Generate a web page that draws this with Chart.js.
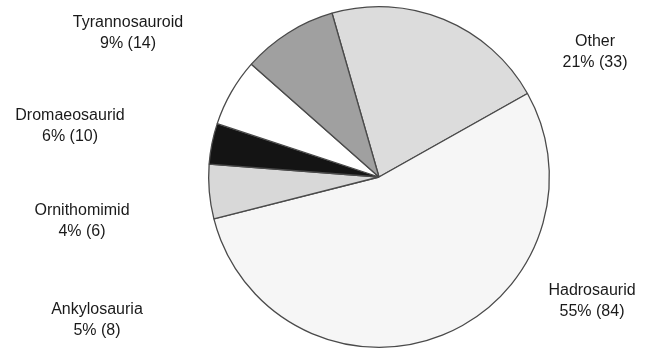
<!DOCTYPE html>
<html>
<head>
<meta charset="utf-8">
<script src="https://cdn.jsdelivr.net/npm/chart.js@4"></script>
<style>
  html, body { margin: 0; padding: 0; background: #fff; }
  #wrap { width: 652px; height: 350px; }
</style>
</head>
<body>
<div id="wrap"><canvas id="pieChart" width="652" height="350"></canvas></div>
<script>
// slices, clockwise starting from "Other"
const groups = ['Other', 'Hadrosaurid', 'Ankylosauria', 'Ornithomimid', 'Dromaeosaurid', 'Tyrannosauroid']
const counts = [33, 84, 8, 6, 10, 14]
const percents = [21, 55, 5, 4, 6, 9]
const sliceColors = ['#dcdcdc', '#f6f6f6', '#d8d8d8', '#141414', '#ffffff', '#a0a0a0']

// where each label sits (px from canvas top-left)
const labelSpots = [
    [595, 52], [592, 301], [97, 320], [82, 221], [70, 126], [128, 33]
]

const labelPlugin = {
    id: 'sliceLabels',
    afterDraw(chart) {
        const ctx = chart.ctx
        ctx.save()
        ctx.fillStyle = '#1a1a1a'
        ctx.font = '16px "Liberation Sans", Arial, sans-serif'
        ctx.textAlign = 'center'
        ctx.textBaseline = 'middle'
        groups.forEach((name, i) => {
            const [x, y] = labelSpots[i]
            ctx.fillText(name, x, y - 10)
            ctx.fillText(percents[i] + '% (' + counts[i] + ')', x, y + 11)
        })
        ctx.restore()
    }
}

const ctx = document.getElementById('pieChart')
new Chart(ctx, {
    type: 'pie',
    data: {
        labels: groups,
        datasets: [
            {
                data: counts,
                backgroundColor: sliceColors,
                borderColor: '#4a4a4a',
                borderWidth: 1.3
            }
        ]
    },
    options: {
        responsive: false,
        animation: false,
        rotation: -16,
        layout: { padding: { left: 106, right: 0, top: 6, bottom: 2 } },
        plugins: {
            legend: { display: false },
            tooltip: { enabled: false }
        }
    },
    plugins: [labelPlugin]
})
</script>
</body>
</html>
